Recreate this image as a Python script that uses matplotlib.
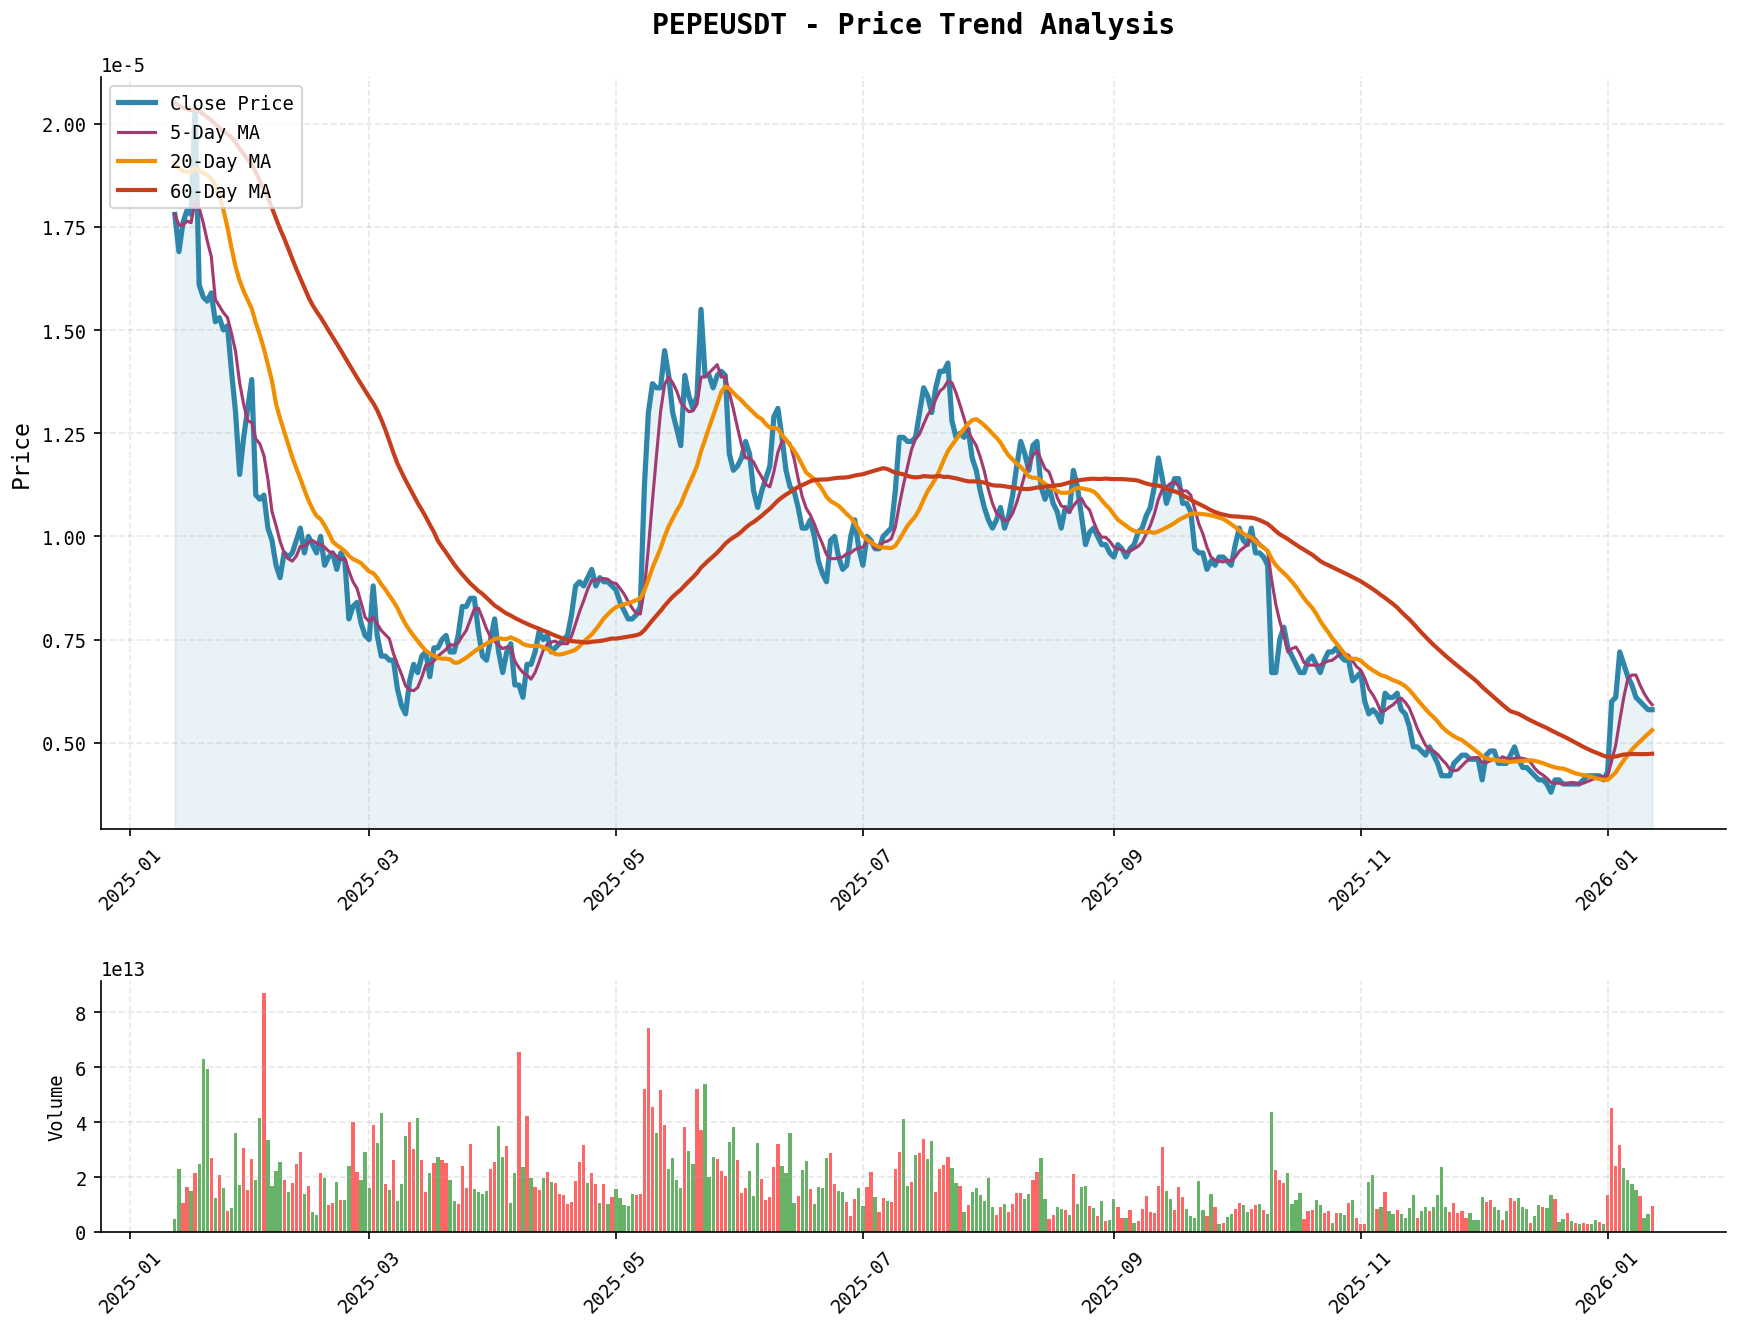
import numpy as np
import pandas as pd
import matplotlib
matplotlib.use("Agg")
import matplotlib.pyplot as plt
import matplotlib.dates as mdates

plt.rcParams['font.family'] = ['DejaVu Sans Mono']
plt.rcParams['axes.unicode_minus'] = False

start_date = "2025-01-12"

# closes for the 59 days before the window (needed to start the moving averages), x1e-5
warmup_close = [2.10, 2.05, 1.98, 1.95, 1.92, 1.90, 1.97,
                2.02, 2.05, 2.10, 2.06, 2.00, 1.88, 1.92, 2.00, 2.04, 2.08,
                2.10, 2.15, 2.20, 2.35, 2.25, 2.30, 2.45, 2.50,
                2.40, 2.30, 2.42, 2.48, 2.45, 2.40, 2.38, 2.30, 2.12, 1.90,
                1.85, 1.88, 1.95, 1.90, 1.87,
                1.95, 1.90, 1.82, 1.80, 1.82, 1.75, 1.70, 1.68, 1.76, 1.82,
                2.05, 2.20, 2.35, 2.40, 2.20,
                1.82, 1.76, 1.74, 1.80]

# daily close, x1e-5
close = [1.78, 1.69, 1.76, 1.79, 1.78, 2.04, 1.61, 1.58, 1.57, 1.59,
         1.52, 1.53, 1.50, 1.51, 1.40, 1.30, 1.15, 1.24, 1.31, 1.38,
         1.10, 1.09, 1.10, 1.02, 0.99, 0.93, 0.90, 0.96, 0.95, 0.96,
         0.99, 1.02, 0.96, 1.00, 0.98, 0.96, 1.00, 0.93, 0.95, 0.96,
         0.92, 0.96, 0.94, 0.80, 0.83, 0.84, 0.79, 0.76, 0.75, 0.88,
         0.76, 0.71, 0.71, 0.70, 0.70, 0.63, 0.59, 0.57, 0.65, 0.69,
         0.67, 0.71, 0.72, 0.66, 0.73, 0.73, 0.75, 0.76, 0.72, 0.72,
         0.76, 0.83, 0.83, 0.85, 0.85, 0.77, 0.71, 0.70, 0.75, 0.80,
         0.72, 0.67, 0.72, 0.74, 0.64, 0.64, 0.61, 0.69, 0.69, 0.72,
         0.77, 0.75, 0.76, 0.72, 0.73, 0.74, 0.75, 0.76, 0.81, 0.88,
         0.89, 0.88, 0.90, 0.92, 0.88, 0.90, 0.89, 0.89, 0.88, 0.87,
         0.84, 0.82, 0.80, 0.80, 0.81, 0.83, 1.12, 1.30, 1.37, 1.36,
         1.36, 1.45, 1.39, 1.30, 1.26, 1.22, 1.39, 1.34, 1.31, 1.34,
         1.55, 1.39, 1.39, 1.36, 1.39, 1.40, 1.39, 1.20, 1.16, 1.17,
         1.19, 1.23, 1.20, 1.11, 1.07, 1.11, 1.14, 1.17, 1.29, 1.31,
         1.24, 1.16, 1.12, 1.11, 1.07, 1.02, 1.02, 1.04, 1.00, 0.94,
         0.91, 0.89, 0.99, 1.00, 0.95, 0.92, 0.93, 1.00, 1.04, 0.97,
         0.93, 1.00, 0.99, 0.97, 0.97, 1.00, 1.01, 1.02, 1.11, 1.24,
         1.24, 1.23, 1.23, 1.24, 1.30, 1.36, 1.34, 1.30, 1.36, 1.40,
         1.40, 1.42, 1.28, 1.24, 1.25, 1.24, 1.26, 1.19, 1.16, 1.11,
         1.07, 1.04, 1.02, 1.04, 1.07, 1.02, 1.05, 1.10, 1.17, 1.23,
         1.20, 1.16, 1.22, 1.23, 1.12, 1.09, 1.12, 1.08, 1.06, 1.02,
         1.07, 1.06, 1.16, 1.12, 1.05, 0.98, 1.01, 1.02, 1.00, 0.98,
         0.98, 0.96, 0.95, 0.98, 0.97, 0.95, 0.97, 0.98, 1.01, 1.02,
         1.05, 1.07, 1.12, 1.19, 1.14, 1.08, 1.11, 1.14, 1.14, 1.08,
         1.08, 1.06, 0.97, 0.96, 0.96, 0.92, 0.94, 0.93, 0.95, 0.95,
         0.94, 0.93, 0.98, 1.02, 0.99, 0.98, 1.02, 0.96, 0.96, 0.95,
         0.93, 0.67, 0.67, 0.75, 0.78, 0.73, 0.71, 0.69, 0.67, 0.67,
         0.70, 0.71, 0.69, 0.67, 0.70, 0.72, 0.72, 0.73, 0.71, 0.70,
         0.70, 0.65, 0.66, 0.67, 0.60, 0.57, 0.58, 0.57, 0.55, 0.62,
         0.61, 0.61, 0.62, 0.58, 0.57, 0.54, 0.49, 0.49, 0.48, 0.47,
         0.49, 0.47, 0.45, 0.42, 0.42, 0.42, 0.45, 0.46, 0.47, 0.47,
         0.46, 0.46, 0.46, 0.41, 0.47, 0.48, 0.48, 0.45, 0.45, 0.45,
         0.47, 0.49, 0.46, 0.44, 0.44, 0.43, 0.42, 0.41, 0.41, 0.40,
         0.38, 0.41, 0.41, 0.40, 0.40, 0.40, 0.40, 0.40, 0.41, 0.42,
         0.42, 0.42, 0.42, 0.41, 0.43, 0.60, 0.61, 0.72, 0.69, 0.66,
         0.64, 0.61, 0.60, 0.59, 0.58, 0.58]

# daily volume, x1e13
volume = [0.48, 2.30, 1.06, 1.65, 1.50, 2.16, 2.49, 6.29, 5.93, 2.71,
          1.24, 2.09, 1.61, 0.77, 0.88, 3.62, 1.72, 3.07, 1.54, 2.67,
          1.90, 4.17, 8.71, 3.37, 1.68, 2.23, 2.56, 1.90, 1.46, 1.79,
          2.49, 2.93, 1.39, 1.68, 0.73, 0.62, 2.16, 1.98, 0.99, 1.06,
          1.83, 1.17, 1.17, 2.41, 4.02, 2.20, 1.90, 2.93, 1.61, 3.91,
          3.26, 4.35, 1.76, 1.54, 2.63, 1.13, 1.76, 3.51, 4.02, 3.04,
          4.17, 2.63, 1.46, 2.16, 2.52, 2.74, 2.63, 2.52, 1.90, 1.13,
          1.02, 2.41, 1.61, 3.22, 1.57, 1.46, 1.39, 1.50, 2.30, 2.56,
          3.88, 2.74, 3.15, 1.06, 2.16, 6.55, 2.38, 4.24, 1.98, 1.65,
          1.54, 1.98, 2.20, 1.83, 1.79, 1.39, 1.35, 1.02, 1.10, 1.87,
          2.56, 3.18, 1.79, 2.16, 1.76, 1.06, 1.76, 1.02, 1.28, 1.57,
          1.24, 0.99, 0.95, 1.39, 1.35, 1.39, 5.20, 7.43, 4.57, 3.62,
          5.16, 3.91, 2.30, 2.71, 1.90, 1.61, 3.84, 2.96, 2.49, 5.20,
          3.73, 5.38, 2.01, 2.74, 2.67, 2.23, 2.05, 3.29, 3.84, 2.63,
          1.43, 1.61, 2.23, 1.32, 3.26, 1.94, 1.17, 1.28, 2.38, 3.22,
          2.41, 2.16, 3.62, 1.06, 1.32, 2.27, 2.60, 1.57, 1.02, 1.65,
          1.61, 2.71, 2.89, 1.76, 1.50, 1.46, 1.10, 0.59, 1.21, 1.61,
          0.95, 1.65, 2.20, 1.28, 0.73, 1.24, 1.13, 1.10, 2.30, 2.93,
          4.13, 1.68, 1.83, 2.82, 2.89, 3.40, 2.67, 3.33, 1.46, 2.30,
          2.45, 2.74, 2.34, 1.79, 1.68, 0.73, 0.99, 1.46, 1.61, 1.35,
          1.13, 1.98, 0.91, 0.62, 0.91, 1.02, 0.73, 1.02, 1.43, 1.43,
          1.21, 1.39, 1.90, 2.20, 2.71, 1.21, 0.48, 0.62, 0.91, 0.84,
          0.80, 0.62, 2.12, 1.02, 1.65, 1.68, 0.95, 0.88, 0.59, 1.13,
          0.40, 0.44, 1.21, 0.91, 0.51, 0.51, 0.80, 0.33, 0.40, 0.84,
          1.32, 0.73, 0.70, 1.68, 3.11, 1.50, 1.21, 0.80, 1.65, 1.28,
          0.84, 0.59, 0.51, 1.87, 0.80, 0.59, 1.39, 0.91, 0.29, 0.33,
          0.55, 0.66, 0.84, 1.06, 0.99, 0.73, 0.84, 0.99, 1.02, 0.80,
          0.66, 4.39, 2.27, 1.90, 1.79, 2.16, 1.02, 1.17, 1.43, 0.48,
          0.77, 0.80, 1.17, 0.99, 0.70, 0.77, 0.33, 0.70, 0.70, 0.62,
          1.06, 1.17, 0.51, 0.29, 0.29, 1.83, 2.09, 0.84, 0.91, 1.46,
          0.77, 0.66, 0.80, 0.66, 0.51, 0.88, 1.35, 0.51, 0.77, 0.91,
          0.77, 0.91, 1.35, 2.38, 0.91, 0.73, 1.06, 0.70, 0.77, 0.51,
          0.70, 0.44, 0.44, 1.28, 1.10, 1.17, 0.91, 0.80, 0.44, 0.77,
          1.24, 1.13, 1.24, 0.91, 0.84, 0.33, 0.59, 0.99, 0.91, 0.88,
          1.35, 1.21, 0.37, 0.48, 0.70, 0.40, 0.33, 0.29, 0.33, 0.29,
          0.29, 0.44, 0.37, 0.29, 1.35, 4.50, 2.41, 3.18, 2.34, 1.90,
          1.76, 1.54, 1.32, 0.51, 0.66, 0.95]

# candle direction per day (1 = close above open)
up_day = [0, 0, 1, 1, 0, 1, 0, 0, 0, 1,
          0, 1, 0, 1, 0, 0, 0, 1, 1, 1,
          0, 0, 1, 0, 0, 0, 0, 1, 0, 1,
          1, 1, 0, 1, 0, 0, 1, 0, 1, 1,
          0, 1, 0, 0, 1, 1, 0, 0, 0, 1,
          0, 0, 1, 0, 1, 0, 0, 0, 1, 1,
          0, 1, 1, 0, 1, 0, 1, 1, 0, 0,
          1, 1, 1, 1, 0, 0, 0, 0, 1, 1,
          0, 0, 1, 0, 0, 1, 0, 1, 0, 1,
          1, 0, 1, 0, 1, 1, 1, 1, 1, 1,
          1, 1, 0, 1, 1, 0, 1, 0, 1, 0,
          0, 0, 0, 0, 1, 1, 1, 1, 1, 0,
          1, 1, 0, 0, 0, 0, 1, 0, 0, 1,
          1, 0, 0, 0, 1, 1, 1, 0, 0, 1,
          1, 1, 0, 0, 0, 1, 1, 1, 1, 1,
          0, 0, 0, 0, 1, 0, 0, 1, 0, 0,
          0, 0, 1, 1, 0, 0, 1, 1, 1, 0,
          0, 1, 1, 0, 1, 1, 0, 1, 1, 1,
          0, 0, 1, 0, 1, 1, 0, 0, 1, 1,
          1, 1, 0, 0, 1, 0, 1, 0, 0, 0,
          0, 0, 0, 1, 1, 0, 1, 1, 1, 1,
          0, 0, 1, 1, 0, 0, 1, 1, 0, 0,
          1, 0, 1, 0, 0, 0, 1, 0, 1, 0,
          1, 0, 0, 1, 1, 0, 1, 0, 1, 1,
          1, 1, 1, 1, 1, 0, 0, 1, 1, 1,
          0, 0, 0, 0, 0, 1, 0, 1, 0, 1,
          0, 0, 1, 1, 0, 0, 1, 1, 0, 1,
          0, 0, 1, 1, 1, 0, 0, 0, 0, 1,
          1, 1, 0, 0, 1, 1, 0, 1, 0, 0,
          1, 0, 1, 1, 1, 0, 0, 1, 0, 1,
          0, 0, 1, 0, 0, 0, 0, 1, 0, 0,
          1, 0, 0, 0, 0, 1, 1, 1, 1, 1,
          0, 0, 0, 0, 1, 1, 0, 0, 1, 0,
          1, 1, 0, 0, 0, 1, 0, 0, 1, 0,
          0, 1, 0, 0, 1, 0, 1, 0, 1, 1,
          0, 0, 1, 0, 1, 1, 1, 1, 0, 0,
          0, 0, 1, 0, 0, 1]

dates = pd.date_range(start_date, periods=len(close), freq="D")
price = np.array(close) * 1e-5
vol = np.array(volume) * 1e13

# moving averages over the full history, then cut to the shown window
hist = pd.Series(warmup_close + close) * 1e-5
n0 = len(warmup_close)
ma5 = hist.rolling(5).mean().values[n0:]
ma20 = hist.rolling(20).mean().values[n0:]
ma60 = hist.rolling(60).mean().values[n0:]

W, H = 1743, 1327
fig = plt.figure(figsize=(W / 150, H / 150), dpi=150)
ax1 = fig.add_axes([101 / W, 1 - 830 / H, 1625 / W, 752 / H])
ax2 = fig.add_axes([101 / W, 1 - 1233 / H, 1625 / W, 251 / H])

ylo, yhi = 0.291e-5, 2.113e-5

ax1.plot(dates, price, color='#2E86AB', linewidth=2.5, label='Close Price')
ax1.plot(dates, ma5, color='#A23B72', linewidth=1.5, label='5-Day MA')
ax1.plot(dates, ma20, color='#F18F01', linewidth=2, label='20-Day MA')
ax1.plot(dates, ma60, color='#C73E1D', linewidth=2, label='60-Day MA')
ax1.fill_between(dates, price, ylo, color='#2E86AB', alpha=0.1)
ax1.set_ylim(ylo, yhi)
ax1.set_ylabel('Price', fontsize=11)
ax1.legend(loc='upper left', fontsize=9, labelspacing=0.55)
ax1.grid(True, linestyle='--', alpha=0.3)

bar_colors = ['red' if u else 'green' for u in up_day]
ax2.bar(dates, vol, width=0.8, color=bar_colors, alpha=0.6)
ax2.set_ylabel('Volume', fontsize=9)
ax2.grid(True, linestyle='--', alpha=0.3)
ax2.set_xlim(ax1.get_xlim())

for ax in (ax1, ax2):
    ax.spines['top'].set_visible(False)
    ax.spines['right'].set_visible(False)
    ax.xaxis.set_major_locator(mdates.MonthLocator(bymonth=[1, 3, 5, 7, 9, 11]))
    ax.xaxis.set_major_formatter(mdates.DateFormatter('%Y-%m'))
    ax.tick_params(labelsize=9)
    ax.yaxis.get_offset_text().set_fontsize(9)
    for lbl in ax.get_xticklabels():
        lbl.set_rotation(45)

fig.text(914 / W, 1 - 25 / H, 'PEPEUSDT - Price Trend Analysis',
         ha='center', va='center', fontsize=13.5, fontweight='bold')

fig.savefig('out.png', dpi=150)
